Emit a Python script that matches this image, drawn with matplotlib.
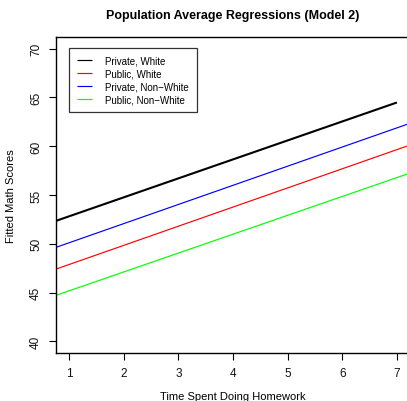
import numpy as np
import matplotlib.pyplot as plt

plt.rcParams['font.family'] = ['Liberation Sans', 'DejaVu Sans']

# fitted lines from the population-average model: intercept + slope * homework
groups = ['Private, White', 'Public, White', 'Private, Non\u2212White', 'Public, Non\u2212White']
colors = ['black', 'red', 'blue', '#00ff00']
intercepts = [50.87, 45.91, 48.14, 43.24]
slopes = [1.945, 1.963, 1.963, 1.935]
x_max = [7.0, 7.3, 7.3, 7.3]

xticks = [1, 2, 3, 4, 5, 6, 7]
yticks = [40, 45, 50, 55, 60, 65, 70]

W, H = 407, 402
fig = plt.figure(figsize=(W / 100, H / 100), dpi=100)
ax = fig.add_axes([56 / W, 48 / H, 354 / W, 316 / H])

x0 = 0.76
for name, c, b0, b1, xm in zip(groups, colors, intercepts, slopes, x_max):
    xs = np.array([x0, xm])
    lw = 1.5 if c == 'black' else 0.85
    ax.plot(xs, b0 + b1 * xs, color=c, lw=lw, label=name, solid_capstyle='butt')

ax.set_xlim(0.76, 7.24)
ax.set_ylim(38.8, 71.2)
ax.set_xticks(xticks)
ax.set_yticks(yticks)
ax.set_yticklabels([str(v) for v in yticks], rotation=90, va='center')
ax.tick_params(axis='both', direction='out', length=5, width=0.8, labelsize=8.5,
               color='black', labelcolor='#111111')
ax.tick_params(axis='x', pad=5)
ax.tick_params(axis='y', pad=5)
for sp in ax.spines.values():
    sp.set_linewidth(1.0)

ax.set_xlabel('Time Spent Doing Homework', fontsize=8, labelpad=9)
ax.set_ylabel('Fitted Math Scores', fontsize=8, labelpad=10)
ax.set_title('Population Average Regressions (Model 2)', fontsize=9,
             fontweight='bold', pad=14)

leg = ax.legend(loc='upper left', bbox_to_anchor=(13 / 354, 1 - 11 / 316),
                fontsize=7, frameon=True, fancybox=False, borderaxespad=0,
                handlelength=1.6, handletextpad=1.35, labelspacing=0.3,
                borderpad=0.8)
leg.get_frame().set_edgecolor('black')
leg.get_frame().set_linewidth(0.9)
for h in leg.get_lines():
    h.set_linewidth(0.85)

fig.savefig('out.png', dpi=100)
